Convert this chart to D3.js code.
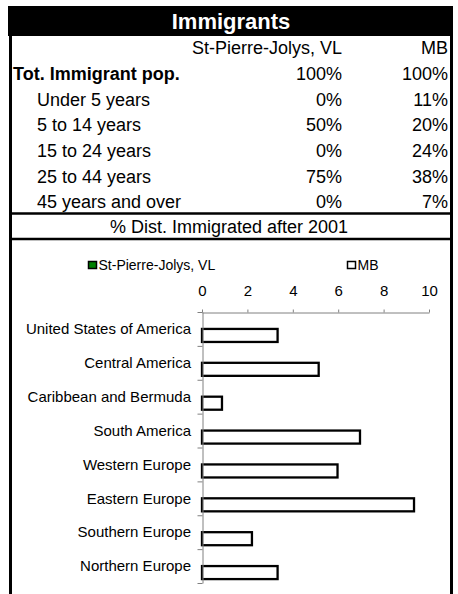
<!DOCTYPE html>
<html>
<head>
<meta charset="utf-8">
<script src="https://cdn.jsdelivr.net/npm/d3@7"></script>
<style>
  html, body { margin: 0; padding: 0; background: #fff; }
  svg { display: block; font-family: Arial, "Liberation Sans", sans-serif; }
</style>
</head>
<body>
<svg id="chart" width="458" height="594"></svg>
<script>
// ---- Table data ----
const tableTitle = "Immigrants";
const columnHeaders = ["St-Pierre-Jolys, VL", "MB"];
const rowLabels = ["Tot. Immigrant pop.", "Under 5 years", "5 to 14 years", "15 to 24 years", "25 to 44 years", "45 years and over"];
const spjPercent = ["100%", "0%", "50%", "0%", "75%", "0%"];
const mbPercent = ["100%", "11%", "20%", "24%", "38%", "7%"];
const chartTitle = "% Dist. Immigrated after 2001";

// ---- Chart data ----
const categories = ["United States of America", "Central America", "Caribbean and Bermuda", "South America", "Western Europe", "Eastern Europe", "Southern Europe", "Northern Europe"];
const seriesNames = ["St-Pierre-Jolys, VL", "MB"];
const spjValues = [0, 0, 0, 0, 0, 0, 0, 0];
const mbValues = [3.33, 5.14, 0.88, 6.96, 5.97, 9.34, 2.2, 3.33];
const xTicks = [0, 2, 4, 6, 8, 10];

const svg = d3.select("#chart");

// ---- Frame ----
svg.append("rect").attr("x", 8).attr("y", 6).attr("width", 445).attr("height", 30).attr("fill", "#000");
svg.append("line").attr("x1", 10.5).attr("x2", 10.5).attr("y1", 6).attr("y2", 594).attr("stroke", "#000").attr("stroke-width", 3);
svg.append("line").attr("x1", 451.5).attr("x2", 451.5).attr("y1", 6).attr("y2", 594).attr("stroke", "#000").attr("stroke-width", 3);
svg.append("line").attr("x1", 9).attr("x2", 453).attr("y1", 213.5).attr("y2", 213.5).attr("stroke", "#000").attr("stroke-width", 2.5);
svg.append("line").attr("x1", 9).attr("x2", 453).attr("y1", 239).attr("y2", 239).attr("stroke", "#000").attr("stroke-width", 2.5);

// Title
svg.append("text").attr("x", 231).attr("y", 29).attr("text-anchor", "middle")
  .attr("fill", "#fff").attr("font-weight", "bold").attr("font-size", 22).text(tableTitle);

// Header row
const col1X = 342, col2X = 448;
svg.append("text").attr("x", col1X).attr("y", 54).attr("text-anchor", "end").attr("font-size", 18).text(columnHeaders[0]);
svg.append("text").attr("x", col2X).attr("y", 54).attr("text-anchor", "end").attr("font-size", 18).text(columnHeaders[1]);

const rowBase = [80, 106, 131, 157, 183, 208];
rowLabels.forEach((lab, i) => {
  const bold = i === 0;
  svg.append("text").attr("x", bold ? 13 : 37).attr("y", rowBase[i]).attr("font-size", 18)
    .attr("font-weight", bold ? "bold" : "normal").text(lab);
  svg.append("text").attr("x", col1X).attr("y", rowBase[i]).attr("text-anchor", "end").attr("font-size", 18).text(spjPercent[i]);
  svg.append("text").attr("x", col2X).attr("y", rowBase[i]).attr("text-anchor", "end").attr("font-size", 18).text(mbPercent[i]);
});

svg.append("text").attr("x", 229).attr("y", 233).attr("text-anchor", "middle").attr("font-size", 18).text(chartTitle);

// ---- Legend ----
const legendItems = [
  { name: seriesNames[0], x: 88.5, fill: "#008000" },
  { name: seriesNames[1], x: 347.5, fill: "#fff" }
];
legendItems.forEach(d => {
  svg.append("rect").attr("x", d.x).attr("y", 261.5).attr("width", 8).attr("height", 7)
    .attr("fill", d.fill).attr("stroke", "#000").attr("stroke-width", 1.5);
  svg.append("text").attr("x", d.x + 10).attr("y", 270).attr("font-size", 14).text(d.name);
});

// ---- Scales ----
const x = d3.scaleLinear().domain([0, 10]).range([202, 429]);
const y = d3.scaleBand().domain(categories).range([312, 583]).paddingInner(0).paddingOuter(0);
const ySub = d3.scaleBand().domain(seriesNames).range([0, y.bandwidth()]).paddingInner(0).paddingOuter(0.3);
const yIdx = d3.scaleLinear().domain([0, categories.length]).range([312, 583]);

// ---- Bars ----
const data = categories.map((c, i) => ({ c, vals: [spjValues[i], mbValues[i]] }));
const g = svg.append("g");
data.forEach(d => {
  d.vals.forEach((v, j) => {
    if (v <= 0) return;
    g.append("rect")
      .attr("x", x(0))
      .attr("y", y(d.c) + ySub(seriesNames[j]))
      .attr("width", x(v) - x(0))
      .attr("height", ySub.bandwidth())
      .attr("fill", j === 0 ? "#008000" : "#fff")
      .attr("stroke", "#000").attr("stroke-width", 2.3);
  });
});

// ---- Axes ----
const xAxis = svg.append("g").attr("transform", "translate(0,312.5)")
  .call(d3.axisTop(x).tickValues(xTicks).tickSize(3).tickSizeOuter(0).tickPadding(6).tickFormat(d3.format("d")));
xAxis.selectAll("path, line").attr("stroke", "#808080");
xAxis.selectAll("text").attr("font-size", 15).attr("fill", "#000").attr("font-family", null)
  .attr("dy", null).attr("y", null).each(function() { d3.select(this).attr("y", 296 - 312.5); });

const yAxis = svg.append("g").attr("transform", "translate(202.5,0)")
  .call(d3.axisLeft(yIdx).tickValues(d3.range(0, categories.length + 1)).tickSize(5).tickSizeOuter(0).tickFormat(""));
yAxis.selectAll("path, line").attr("stroke", "#808080");

// Category labels
svg.append("g").selectAll("text").data(categories).join("text")
  .attr("x", 191)
  .attr("y", d => y(d) + y.bandwidth() / 2 + 5.3)
  .attr("text-anchor", "end")
  .attr("font-size", 15)
  .text(d => d);
</script>
</body>
</html>
